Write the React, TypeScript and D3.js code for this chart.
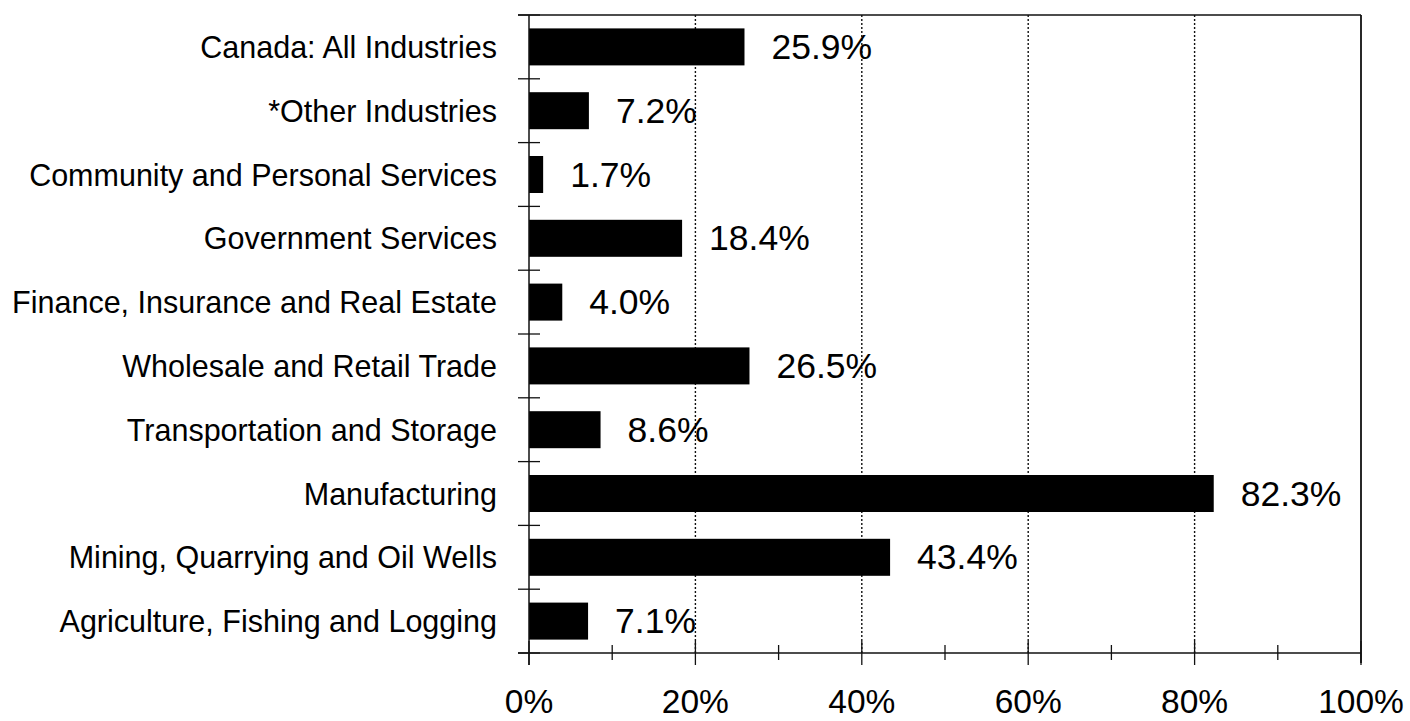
import React from "react";
import * as d3 from "d3";

const categories = [
  "Canada: All Industries",
  "*Other Industries",
  "Community and Personal Services",
  "Government Services",
  "Finance, Insurance and Real Estate",
  "Wholesale and Retail Trade",
  "Transportation and Storage",
  "Manufacturing",
  "Mining, Quarrying and Oil Wells",
  "Agriculture, Fishing and Logging",
];
const values = [25.9, 7.2, 1.7, 18.4, 4.0, 26.5, 8.6, 82.3, 43.4, 7.1];
const xTickLabels = [0, 20, 40, 60, 80, 100];
const minorTicks = [0, 10, 20, 30, 40, 50, 60, 70, 80, 90, 100];
const gridValues = [20, 40, 60, 80];

const W = 1410;
const H = 721;
const left = 529;
const right = 1361;
const top = 15;
const bottom = 653;
const FONT = "'Liberation Sans', Arial, Helvetica, sans-serif";

export default function App() {
  const x = d3.scaleLinear().domain([0, 100]).range([left, right]);
  const y = d3.scaleBand<string>().domain(categories).range([top, bottom]).padding(0);
  const bw = y.bandwidth();
  const barH = bw * 0.58;
  const boundaries = d3.range(categories.length + 1).map((i) => top + i * bw);

  return (
    <svg
      width={W}
      height={H}
      style={{ position: "absolute", left: 0, top: 0, background: "#fff" }}
      fontFamily={FONT}
    >
      <rect x={0} y={0} width={W} height={H} fill="#fff" />
      {/* gridlines */}
      {gridValues.map((v) => (
        <line
          key={"g" + v}
          x1={x(v)}
          x2={x(v)}
          y1={top}
          y2={bottom}
          stroke="#111"
          strokeWidth={1.4}
          strokeDasharray="2,2"
        />
      ))}
      {/* frame top and right */}
      <line x1={left - 11} x2={right} y1={top} y2={top} stroke="#111" strokeWidth={1.5} />
      <line x1={right} x2={right} y1={top} y2={bottom + 10} stroke="#111" strokeWidth={1.8} />
      {/* bars */}
      {categories.map((c, i) => (
        <rect
          key={c}
          x={x(0)}
          y={(y(c) as number) + (bw - barH) / 2}
          width={x(values[i]) - x(0)}
          height={barH}
          fill="#000"
        />
      ))}
      {/* y axis */}
      <line x1={left} x2={left} y1={top} y2={bottom + 12} stroke="#111" strokeWidth={1.5} />
      {boundaries.map((b, i) => (
        <line key={"yt" + i} x1={left - 11} x2={left + 11} y1={b} y2={b} stroke="#111" strokeWidth={1.3} />
      ))}
      {/* x axis */}
      <line x1={left - 11} x2={right} y1={bottom} y2={bottom} stroke="#111" strokeWidth={1.5} />
      {minorTicks.map((v) => {
        const major = v % 20 === 0;
        return (
          <line
            key={"xt" + v}
            x1={x(v)}
            x2={x(v)}
            y1={major ? bottom - 12 : bottom - 8}
            y2={major ? bottom + 12 : bottom + 7}
            stroke="#111"
            strokeWidth={1.3}
          />
        );
      })}
      {xTickLabels.map((v) => (
        <text key={"xl" + v} x={x(v)} y={713} textAnchor="middle" fontSize={33.5} fill="#000">
          {v + "%"}
        </text>
      ))}
      {/* category labels */}
      {categories.map((c) => (
        <text
          key={"cl" + c}
          x={497}
          y={(y(c) as number) + bw / 2 + 11}
          textAnchor="end"
          fontSize={30.5}
          fill="#000"
        >
          {c}
        </text>
      ))}
      {/* value labels */}
      {categories.map((c, i) => (
        <text
          key={"vl" + c}
          x={x(values[i]) + 27}
          y={(y(c) as number) + bw / 2 + 12}
          fontSize={35.5}
          fill="#000"
        >
          {values[i].toFixed(1) + "%"}
        </text>
      ))}
    </svg>
  );
}
